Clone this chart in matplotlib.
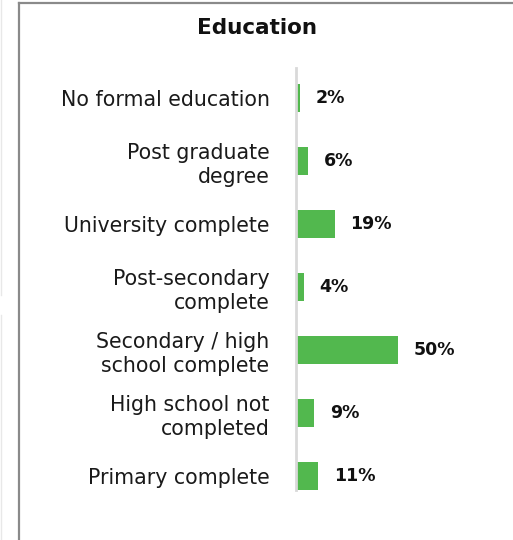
import matplotlib.pyplot as plt
from matplotlib.lines import Line2D

categories = ['No formal education', 'Post graduate\ndegree', 'University complete',
              'Post-secondary\ncomplete', 'Secondary / high\nschool complete',
              'High school not\ncompleted', 'Primary complete']
shares = [2, 6, 19, 4, 50, 9, 11]

W, H = 513, 540
fig = plt.figure(figsize=(W / 100, H / 100), dpi=100)
fig.patch.set_facecolor('white')

# panel frame (left + top edges), plus faint edge of neighbouring panel
fig.add_artist(Line2D([18.5 / W, 18.5 / W], [0, 1 - 2.5 / H], color='#8a8a8a', lw=1.6,
                      transform=fig.transFigure))
fig.add_artist(Line2D([18.5 / W, 1], [1 - 2.5 / H, 1 - 2.5 / H], color='#8a8a8a', lw=1.6,
                      transform=fig.transFigure))
fig.add_artist(Line2D([0.5 / W, 0.5 / W], [1, 1 - 295 / H], color='#e8e8e8', lw=1,
                      transform=fig.transFigure))
fig.add_artist(Line2D([0.5 / W, 0.5 / W], [1 - 315 / H, 0], color='#e8e8e8', lw=1,
                      transform=fig.transFigure))

ax_left, ax_right = 296 / W, 500 / W
ax_top, ax_bot = 1 - 68 / H, 1 - 490 / H
ax = fig.add_axes([ax_left, ax_bot, ax_right - ax_left, ax_top - ax_bot])

ypos = list(range(len(categories)))
ax.barh(ypos, shares, height=0.46, color='#52b84e', zorder=2)
ax.set_xlim(0, 100)
ax.set_ylim(6 + 14 / 63, -30 / 63)

for y, v in zip(ypos, shares):
    ax.text(v + 7.5, y, f'{v}%', va='center', ha='left', fontsize=12.5,
            fontweight='bold', family='DejaVu Sans', color='#111111')

ax.set_yticks(ypos)
ax.set_yticklabels(categories, fontsize=14.8, family='DejaVu Sans', color='#1a1a1a',
                   linespacing=1.22)
ax.tick_params(axis='y', length=0, pad=19)
ax.set_xticks([])
for s in ['top', 'right', 'bottom']:
    ax.spines[s].set_visible(False)
ax.spines['left'].set_color('#d9d9d9')
ax.spines['left'].set_linewidth(2)
for lab in ax.get_yticklabels():
    lab.set_ha('right')

fig.text(257 / W, 1 - 28 / H, 'Education', ha='center', va='center', fontsize=15.5,
         fontweight='bold', family='DejaVu Sans', color='#111111')

fig.savefig('out.png', dpi=100)
